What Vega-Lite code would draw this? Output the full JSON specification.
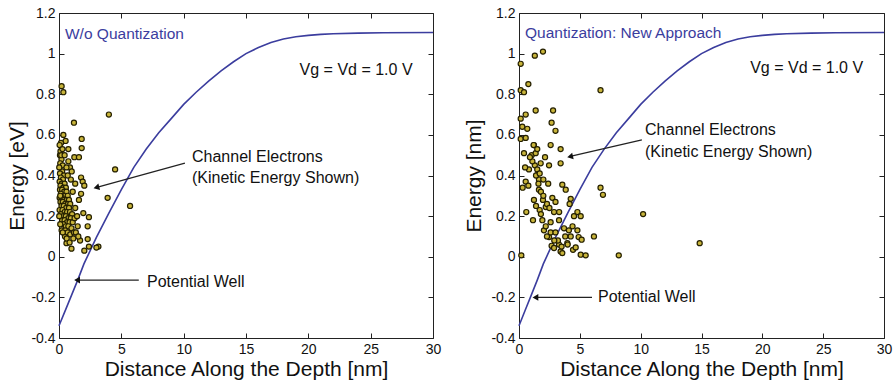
{
  "$schema": "https://vega.github.io/schema/vega-lite/v6.json",
  "background": "white",
  "padding": {"left": 5, "top": 5, "right": 3, "bottom": 2},
  "bounds": "flush",
  "spacing": 86,
  "config": {
    "font": "Liberation Sans",
    "view": {"stroke": "#222222", "strokeWidth": 1},
    "axis": {
      "grid": false, "domain": false, "tickSize": -5, "tickColor": "#222222", "tickWidth": 1,
      "labelFontSize": 14, "labelColor": "#111111", "labelPadding": 9,
      "labelFlush": false, "labelOverlap": false,
      "titleFontSize": 21, "titleFontWeight": "normal", "titleColor": "#111111"
    }
  },
  "datasets": {
    "curve": [
      {"x": 0, "y": -0.34}, {"x": 0.5, "y": -0.265}, {"x": 1, "y": -0.19}, {"x": 1.5, "y": -0.115},
      {"x": 2, "y": -0.035}, {"x": 3, "y": 0.095}, {"x": 4, "y": 0.215}, {"x": 5, "y": 0.33},
      {"x": 6, "y": 0.44}, {"x": 7, "y": 0.53}, {"x": 8, "y": 0.61}, {"x": 9, "y": 0.68},
      {"x": 10, "y": 0.75}, {"x": 11, "y": 0.81}, {"x": 12, "y": 0.865}, {"x": 13, "y": 0.915},
      {"x": 14, "y": 0.96}, {"x": 15, "y": 1.0}, {"x": 16, "y": 1.03}, {"x": 17, "y": 1.055},
      {"x": 18, "y": 1.072}, {"x": 19, "y": 1.083}, {"x": 20, "y": 1.09}, {"x": 21, "y": 1.095},
      {"x": 22, "y": 1.098}, {"x": 24, "y": 1.101}, {"x": 26, "y": 1.103}, {"x": 30, "y": 1.104}
    ],
    "leftPts": [
      {"x": 0.21, "y": 0.84}, {"x": 0.35, "y": 0.81}, {"x": 1.2, "y": 0.66}, {"x": 4.0, "y": 0.70},
      {"x": 0.35, "y": 0.60}, {"x": 0.53, "y": 0.57}, {"x": 1.82, "y": 0.58}, {"x": 0.16, "y": 0.56},
      {"x": 0.75, "y": 0.53}, {"x": 1.82, "y": 0.535}, {"x": 1.23, "y": 0.49}, {"x": 1.6, "y": 0.49},
      {"x": 0.08, "y": 0.50}, {"x": 0.88, "y": 0.44}, {"x": 1.02, "y": 0.42}, {"x": 0.75, "y": 0.47},
      {"x": 4.5, "y": 0.43}, {"x": 1.77, "y": 0.39}, {"x": 1.9, "y": 0.37}, {"x": 2.03, "y": 0.35},
      {"x": 1.77, "y": 0.31}, {"x": 1.6, "y": 0.28}, {"x": 3.9, "y": 0.29}, {"x": 5.7, "y": 0.25},
      {"x": 1.95, "y": 0.215}, {"x": 2.4, "y": 0.195}, {"x": 2.3, "y": 0.15}, {"x": 0.21, "y": 0.13},
      {"x": 0.48, "y": 0.10}, {"x": 1.0, "y": 0.04}, {"x": 2.3, "y": 0.087}, {"x": 2.4, "y": 0.05},
      {"x": 2.03, "y": 0.03}, {"x": 3.16, "y": 0.05}, {"x": 3.0, "y": 0.045}, {"x": 1.69, "y": 0.08},
      {"x": 0.6, "y": 0.067},
      {"x": 0.05, "y": 0.55}, {"x": 0.12, "y": 0.52}, {"x": 0.2, "y": 0.48}, {"x": 0.1, "y": 0.46},
      {"x": 0.3, "y": 0.45}, {"x": 0.25, "y": 0.42}, {"x": 0.08, "y": 0.41}, {"x": 0.4, "y": 0.40},
      {"x": 0.15, "y": 0.39}, {"x": 0.32, "y": 0.38}, {"x": 0.05, "y": 0.37}, {"x": 0.22, "y": 0.36},
      {"x": 0.45, "y": 0.36}, {"x": 0.12, "y": 0.35}, {"x": 0.35, "y": 0.34}, {"x": 0.55, "y": 0.34},
      {"x": 0.08, "y": 0.33}, {"x": 0.25, "y": 0.33}, {"x": 0.42, "y": 0.32}, {"x": 0.6, "y": 0.32},
      {"x": 0.15, "y": 0.31}, {"x": 0.32, "y": 0.30}, {"x": 0.5, "y": 0.30}, {"x": 0.7, "y": 0.30},
      {"x": 0.05, "y": 0.29}, {"x": 0.22, "y": 0.29}, {"x": 0.4, "y": 0.28}, {"x": 0.62, "y": 0.28},
      {"x": 0.8, "y": 0.28}, {"x": 0.12, "y": 0.27}, {"x": 0.3, "y": 0.27}, {"x": 0.5, "y": 0.26},
      {"x": 0.72, "y": 0.26}, {"x": 0.9, "y": 0.26}, {"x": 0.2, "y": 0.25}, {"x": 0.38, "y": 0.25},
      {"x": 0.58, "y": 0.24}, {"x": 0.8, "y": 0.24}, {"x": 0.05, "y": 0.23}, {"x": 0.28, "y": 0.23},
      {"x": 0.45, "y": 0.22}, {"x": 0.65, "y": 0.22}, {"x": 0.88, "y": 0.22}, {"x": 1.05, "y": 0.21},
      {"x": 0.15, "y": 0.21}, {"x": 0.35, "y": 0.20}, {"x": 0.55, "y": 0.20}, {"x": 0.75, "y": 0.19},
      {"x": 0.95, "y": 0.19}, {"x": 0.25, "y": 0.18}, {"x": 0.45, "y": 0.18}, {"x": 0.65, "y": 0.17},
      {"x": 0.85, "y": 0.17}, {"x": 1.1, "y": 0.17}, {"x": 0.35, "y": 0.16}, {"x": 0.55, "y": 0.15},
      {"x": 0.75, "y": 0.15}, {"x": 1.0, "y": 0.14}, {"x": 0.5, "y": 0.13}, {"x": 0.7, "y": 0.12},
      {"x": 0.9, "y": 0.11}, {"x": 1.2, "y": 0.12}, {"x": 0.62, "y": 0.09}, {"x": 0.85, "y": 0.07},
      {"x": 1.15, "y": 0.09}, {"x": 0.18, "y": 0.50}, {"x": 0.28, "y": 0.53}, {"x": 0.45, "y": 0.50},
      {"x": 0.6, "y": 0.44}, {"x": 0.02, "y": 0.44}, {"x": 0.1, "y": 0.30}, {"x": 0.02, "y": 0.20},
      {"x": 0.1, "y": 0.16}, {"x": 0.3, "y": 0.12}, {"x": 1.3, "y": 0.24}, {"x": 1.25, "y": 0.19},
      {"x": 1.45, "y": 0.2}, {"x": 1.5, "y": 0.15}, {"x": 1.35, "y": 0.12}, {"x": 1.55, "y": 0.1},
      {"x": 1.1, "y": 0.32}, {"x": 1.3, "y": 0.36}, {"x": 0.95, "y": 0.38}, {"x": 0.7, "y": 0.40}
    ],
    "rightPts": [
      {"x": 0.14, "y": 0.95}, {"x": 1.3, "y": 0.99}, {"x": 1.97, "y": 1.01}, {"x": 0.14, "y": 0.82},
      {"x": 0.41, "y": 0.81}, {"x": 0.77, "y": 0.85}, {"x": 6.7, "y": 0.82}, {"x": 0.14, "y": 0.68},
      {"x": 0.55, "y": 0.70}, {"x": 1.37, "y": 0.72}, {"x": 2.8, "y": 0.72}, {"x": 2.68, "y": 0.66},
      {"x": 0.27, "y": 0.64}, {"x": 0.68, "y": 0.63}, {"x": 3.0, "y": 0.62}, {"x": 0.14, "y": 0.58},
      {"x": 0.55, "y": 0.585}, {"x": 1.23, "y": 0.55}, {"x": 2.6, "y": 0.55}, {"x": 3.42, "y": 0.53},
      {"x": 0.41, "y": 0.51}, {"x": 1.04, "y": 0.50}, {"x": 1.37, "y": 0.51}, {"x": 2.14, "y": 0.49},
      {"x": 1.78, "y": 0.46}, {"x": 2.47, "y": 0.45}, {"x": 3.42, "y": 0.46}, {"x": 0.82, "y": 0.43},
      {"x": 1.59, "y": 0.41}, {"x": 0.55, "y": 0.37}, {"x": 0.77, "y": 0.35}, {"x": 1.64, "y": 0.38},
      {"x": 2.4, "y": 0.36}, {"x": 3.56, "y": 0.355}, {"x": 3.84, "y": 0.33}, {"x": 6.7, "y": 0.34},
      {"x": 6.9, "y": 0.305}, {"x": 1.64, "y": 0.33}, {"x": 2.74, "y": 0.29}, {"x": 1.23, "y": 0.28},
      {"x": 1.97, "y": 0.28}, {"x": 4.25, "y": 0.285}, {"x": 4.16, "y": 0.26}, {"x": 0.6, "y": 0.22},
      {"x": 1.7, "y": 0.23}, {"x": 2.2, "y": 0.245}, {"x": 2.88, "y": 0.22}, {"x": 4.8, "y": 0.22},
      {"x": 10.2, "y": 0.21}, {"x": 1.15, "y": 0.18}, {"x": 1.92, "y": 0.18}, {"x": 2.6, "y": 0.17},
      {"x": 3.29, "y": 0.18}, {"x": 4.52, "y": 0.2}, {"x": 5.07, "y": 0.2}, {"x": 2.05, "y": 0.13},
      {"x": 3.7, "y": 0.14}, {"x": 4.1, "y": 0.13}, {"x": 2.47, "y": 0.097}, {"x": 4.25, "y": 0.1},
      {"x": 6.16, "y": 0.1}, {"x": 4.9, "y": 0.097}, {"x": 2.68, "y": 0.054}, {"x": 2.88, "y": 0.043},
      {"x": 3.29, "y": 0.06}, {"x": 3.97, "y": 0.067}, {"x": 3.42, "y": 0.026}, {"x": 3.56, "y": 0.018},
      {"x": 4.44, "y": 0.034}, {"x": 4.66, "y": 0.046}, {"x": 5.07, "y": 0.01}, {"x": 5.48, "y": 0.007},
      {"x": 8.2, "y": 0.007}, {"x": 14.85, "y": 0.067}, {"x": 0.19, "y": 0.007}, {"x": 5.15, "y": 0.084},
      {"x": 4.8, "y": 0.13},
      {"x": 1.3, "y": 0.45}, {"x": 1.5, "y": 0.43}, {"x": 1.1, "y": 0.47}, {"x": 1.4, "y": 0.40},
      {"x": 1.6, "y": 0.36}, {"x": 1.8, "y": 0.32}, {"x": 2.0, "y": 0.30}, {"x": 2.3, "y": 0.26},
      {"x": 2.5, "y": 0.24}, {"x": 1.4, "y": 0.25}, {"x": 1.8, "y": 0.21}, {"x": 2.2, "y": 0.15},
      {"x": 2.6, "y": 0.12}, {"x": 2.3, "y": 0.10}, {"x": 3.0, "y": 0.12}, {"x": 3.2, "y": 0.08},
      {"x": 3.5, "y": 0.05}, {"x": 3.8, "y": 0.10}, {"x": 4.0, "y": 0.06}, {"x": 2.9, "y": 0.08},
      {"x": 1.2, "y": 0.55}, {"x": 1.5, "y": 0.53}, {"x": 0.9, "y": 0.49}, {"x": 1.7, "y": 0.41},
      {"x": 0.3, "y": 0.34}, {"x": 0.5, "y": 0.44}, {"x": 2.0, "y": 0.38}, {"x": 3.0, "y": 0.27},
      {"x": 3.3, "y": 0.22}, {"x": 4.4, "y": 0.15}
    ]
  },
  "hconcat": [
    {
      "width": 374, "height": 325,
      "layer": [
        {
          "data": {"name": "curve"},
          "mark": {"type": "line", "color": "#3b3d9e", "strokeWidth": 1.6},
          "encoding": {
            "x": {"field": "x", "type": "quantitative",
              "scale": {"domain": [0, 30], "nice": false, "zero": false},
              "axis": {"orient": "bottom", "values": [0, 5, 10, 15, 20, 25, 30], "title": "Distance Along the Depth [nm]", "minExtent": 20, "maxExtent": 20, "titlePadding": 0}},
            "y": {"field": "y", "type": "quantitative",
              "scale": {"domain": [-0.4, 1.2], "nice": false, "zero": false},
              "axis": {"orient": "left", "values": [-0.4, -0.2, 0, 0.2, 0.4, 0.6, 0.8, 1, 1.2], "labelExpr": "'' + datum.value", "title": "Energy [eV]", "minExtent": 28, "maxExtent": 28, "titlePadding": 4}}
          }
        },
        {
          "data": {"name": "leftPts"},
          "mark": {"type": "circle", "fill": "#c8b43a", "stroke": "#252000", "strokeWidth": 1.2, "size": 26, "opacity": 1, "fillOpacity": 1},
          "encoding": {
            "x": {"field": "x", "type": "quantitative", "axis": {"orient": "top", "labels": false, "title": null, "values": [0, 5, 10, 15, 20, 25, 30]}},
            "y": {"field": "y", "type": "quantitative", "axis": {"orient": "right", "labels": false, "title": null, "values": [-0.4, -0.2, 0, 0.2, 0.4, 0.6, 0.8, 1, 1.2]}}
          }
        },
        {
          "data": {"values": [{"x": 10.1, "y": 0.461, "x2": 3.1, "y2": 0.343}, {"x": 6.4, "y": -0.115, "x2": 1.5, "y2": -0.115}]},
          "mark": {"type": "rule", "color": "#222222", "strokeWidth": 1.2},
          "encoding": {
            "x": {"field": "x", "type": "quantitative", "axis": null},
            "y": {"field": "y", "type": "quantitative", "axis": null},
            "x2": {"field": "x2"}, "y2": {"field": "y2"}
          }
        },
        {
          "data": {"values": [{"x": 3.0, "y": 0.341}]},
          "mark": {"type": "point", "shape": "triangle-left", "filled": true, "color": "#111111", "size": 45, "angle": 345, "opacity": 1},
          "encoding": {
            "x": {"field": "x", "type": "quantitative", "axis": null},
            "y": {"field": "y", "type": "quantitative", "axis": null}
          }
        },
        {
          "data": {"values": [{"x": 1.45, "y": -0.115}]},
          "mark": {"type": "point", "shape": "triangle-left", "filled": true, "color": "#111111", "size": 45, "opacity": 1},
          "encoding": {
            "x": {"field": "x", "type": "quantitative", "axis": null},
            "y": {"field": "y", "type": "quantitative", "axis": null}
          }
        },
        {
          "data": {"values": [
            {"x": 10.67, "y": 0.491, "label": "Channel Electrons"},
            {"x": 10.67, "y": 0.388, "label": "(Kinetic Energy Shown)"},
            {"x": 7.06, "y": -0.124, "label": "Potential Well"},
            {"x": 19.3, "y": 0.92, "label": "Vg = Vd = 1.0 V"}
          ]},
          "mark": {"type": "text", "align": "left", "baseline": "middle", "fontSize": 16, "color": "#111111"},
          "encoding": {
            "x": {"field": "x", "type": "quantitative", "axis": null},
            "y": {"field": "y", "type": "quantitative", "axis": null},
            "text": {"field": "label"}
          }
        },
        {
          "data": {"values": [{"x": 0.48, "y": 1.097, "label": "W/o Quantization"}]},
          "mark": {"type": "text", "align": "left", "baseline": "middle", "fontSize": 15.5, "color": "#3b3d9e"},
          "encoding": {
            "x": {"field": "x", "type": "quantitative", "axis": null},
            "y": {"field": "y", "type": "quantitative", "axis": null},
            "text": {"field": "label"}
          }
        }
      ]
    },
    {
      "width": 365, "height": 325,
      "layer": [
        {
          "data": {"name": "curve"},
          "mark": {"type": "line", "color": "#3b3d9e", "strokeWidth": 1.6},
          "encoding": {
            "x": {"field": "x", "type": "quantitative",
              "scale": {"domain": [0, 30], "nice": false, "zero": false},
              "axis": {"orient": "bottom", "values": [0, 5, 10, 15, 20, 25, 30], "title": "Distance Along the Depth [nm]", "minExtent": 20, "maxExtent": 20, "titlePadding": 0}},
            "y": {"field": "y", "type": "quantitative",
              "scale": {"domain": [-0.4, 1.2], "nice": false, "zero": false},
              "axis": {"orient": "left", "values": [-0.4, -0.2, 0, 0.2, 0.4, 0.6, 0.8, 1, 1.2], "labelExpr": "'' + datum.value", "title": "Energy [nm]", "minExtent": 28, "maxExtent": 28, "titlePadding": 7}}
          }
        },
        {
          "data": {"name": "rightPts"},
          "mark": {"type": "circle", "fill": "#c8b43a", "stroke": "#252000", "strokeWidth": 1.2, "size": 26, "opacity": 1, "fillOpacity": 1},
          "encoding": {
            "x": {"field": "x", "type": "quantitative", "axis": {"orient": "top", "labels": false, "title": null, "values": [0, 5, 10, 15, 20, 25, 30]}},
            "y": {"field": "y", "type": "quantitative", "axis": {"orient": "right", "labels": false, "title": null, "values": [-0.4, -0.2, 0, 0.2, 0.4, 0.6, 0.8, 1, 1.2]}}
          }
        },
        {
          "data": {"values": [{"x": 10.1, "y": 0.575, "x2": 4.3, "y2": 0.495}, {"x": 6.0, "y": -0.2, "x2": 1.4, "y2": -0.2}]},
          "mark": {"type": "rule", "color": "#222222", "strokeWidth": 1.2},
          "encoding": {
            "x": {"field": "x", "type": "quantitative", "axis": null},
            "y": {"field": "y", "type": "quantitative", "axis": null},
            "x2": {"field": "x2"}, "y2": {"field": "y2"}
          }
        },
        {
          "data": {"values": [{"x": 4.2, "y": 0.493}]},
          "mark": {"type": "point", "shape": "triangle-left", "filled": true, "color": "#111111", "size": 45, "angle": 347, "opacity": 1},
          "encoding": {
            "x": {"field": "x", "type": "quantitative", "axis": null},
            "y": {"field": "y", "type": "quantitative", "axis": null}
          }
        },
        {
          "data": {"values": [{"x": 1.35, "y": -0.2}]},
          "mark": {"type": "point", "shape": "triangle-left", "filled": true, "color": "#111111", "size": 45, "opacity": 1},
          "encoding": {
            "x": {"field": "x", "type": "quantitative", "axis": null},
            "y": {"field": "y", "type": "quantitative", "axis": null}
          }
        },
        {
          "data": {"values": [
            {"x": 10.36, "y": 0.624, "label": "Channel Electrons"},
            {"x": 10.36, "y": 0.516, "label": "(Kinetic Energy Shown)"},
            {"x": 6.49, "y": -0.198, "label": "Potential Well"},
            {"x": 19.0, "y": 0.93, "label": "Vg = Vd = 1.0 V"}
          ]},
          "mark": {"type": "text", "align": "left", "baseline": "middle", "fontSize": 16, "color": "#111111"},
          "encoding": {
            "x": {"field": "x", "type": "quantitative", "axis": null},
            "y": {"field": "y", "type": "quantitative", "axis": null},
            "text": {"field": "label"}
          }
        },
        {
          "data": {"values": [{"x": 0.49, "y": 1.1, "label": "Quantization: New Approach"}]},
          "mark": {"type": "text", "align": "left", "baseline": "middle", "fontSize": 15.5, "color": "#3b3d9e"},
          "encoding": {
            "x": {"field": "x", "type": "quantitative", "axis": null},
            "y": {"field": "y", "type": "quantitative", "axis": null},
            "text": {"field": "label"}
          }
        }
      ]
    }
  ]
}
